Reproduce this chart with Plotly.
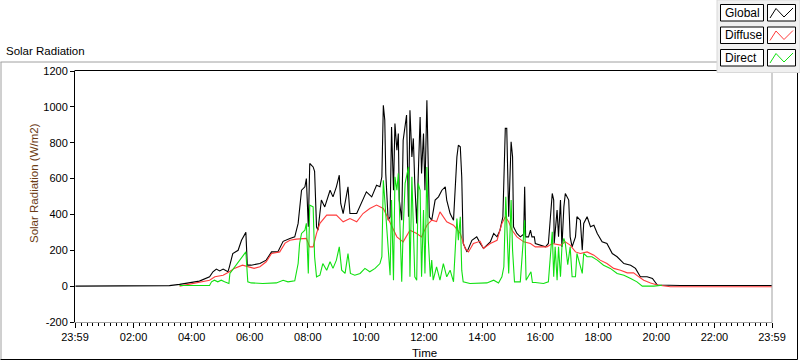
import plotly.graph_objects as go
import pandas as pd

DAY = "2024-05-02"
PREV_DAY = "2024-05-01"

# ---------------- data ----------------
global_times = ["00:00", "03:00", "03:14", "03:35", "04:16", "04:37", "04:44", "04:51", "04:58", "05:05",
                "05:15", "05:18", "05:25", "05:36", "05:43", "05:52", "05:55", "06:03", "06:21", "06:34",
                "06:45", "06:58", "07:02", "07:09", "07:23", "07:33", "07:40", "07:43", "07:47", "07:54",
                "07:57", "08:01", "08:04", "08:11", "08:14", "08:18", "08:21", "08:28", "08:35", "08:46",
                "08:52", "08:59", "09:05", "09:08", "09:13", "09:23", "09:27", "09:41", "09:51", "10:01",
                "10:12", "10:22", "10:29", "10:33", "10:36", "10:39", "10:41", "10:46", "10:50", "10:53",
                "10:57", "11:00", "11:04", "11:07", "11:09", "11:14", "11:17", "11:24", "11:28", "11:31",
                "11:35", "11:38", "11:41", "11:45", "11:52", "11:55", "11:59", "12:02", "12:06", "12:09",
                "12:11", "12:16", "12:23", "12:30", "12:37", "12:44", "12:47", "12:54", "13:01", "13:08",
                "13:11", "13:15", "13:18", "13:21", "13:29", "13:39", "13:49", "13:56", "14:03", "14:17",
                "14:24", "14:31", "14:37", "14:43", "14:48", "14:51", "14:55", "15:00", "15:03", "15:05",
                "15:12", "15:19", "15:26", "15:28", "15:30", "15:36", "15:40", "15:43", "15:48", "15:50",
                "16:00", "16:11", "16:17", "16:25", "16:28", "16:29", "16:35", "16:38", "16:42", "16:45",
                "16:49", "16:52", "16:59", "17:02", "17:06", "17:13", "17:16", "17:23", "17:27", "17:30",
                "17:37", "17:44", "17:51", "17:58", "18:08", "18:18", "18:29", "18:39", "18:53", "19:07",
                "19:17", "19:27", "19:41", "19:52", "20:02", "20:50", "23:59"]
global_values = [0, 0, 3, 10, 28, 52, 80, 95, 85, 95,
                 80, 108, 182, 200, 256, 300, 117, 117, 126, 145,
                 191, 191, 215, 250, 266, 275, 350, 442, 535, 554,
                 600, 331, 684, 665, 640, 331, 312, 480, 442, 535,
                 498, 554, 619, 461, 405, 554, 405, 405, 461, 526,
                 498, 563, 554, 610, 1009, 926, 629, 368, 387, 888,
                 535, 907, 758, 851, 480, 368, 814, 954, 387, 981,
                 721, 824, 573, 350, 944, 629, 851, 535, 1037, 721,
                 387, 368, 480, 498, 535, 554, 480, 405, 368, 721,
                 786, 777, 610, 238, 191, 256, 275, 240, 210, 247,
                 294, 275, 312, 387, 880, 880, 387, 805, 721, 331,
                 294, 275, 290, 554, 275, 275, 312, 275, 275, 238,
                 229, 219, 238, 517, 480, 238, 424, 275, 480, 219,
                 442, 517, 480, 275, 219, 275, 387, 368, 201, 350,
                 387, 331, 340, 294, 247, 238, 182, 164, 126, 117,
                 99, 52, 52, 43, 6, 4, 4]

diffuse_times = ["03:35", "04:37", "04:48", "05:05", "05:18", "05:28", "05:45", "05:55", "06:09", "06:21",
                 "06:34", "06:45", "07:02", "07:13", "07:23", "07:36", "07:57", "08:04", "08:11", "08:18",
                 "08:25", "08:39", "08:59", "09:13", "09:27", "09:41", "09:54", "10:08", "10:22", "10:36",
                 "10:50", "11:04", "11:17", "11:31", "11:45", "11:55", "12:06", "12:16", "12:26", "12:33",
                 "12:47", "13:01", "13:15", "13:25", "13:32", "13:42", "13:56", "14:03", "14:17", "14:31",
                 "14:41", "14:48", "14:55", "15:02", "15:12", "15:26", "15:40", "15:50", "16:04", "16:14",
                 "16:25", "16:42", "16:52", "17:02", "17:13", "17:23", "17:37", "17:51", "18:04", "18:18",
                 "18:32", "18:46", "19:00", "19:13", "19:24", "19:34", "19:48", "20:02", "20:29", "23:59"]
diffuse_values = [0, 33, 52, 61, 80, 99, 117, 108, 99, 108,
                  136, 182, 191, 240, 256, 262, 266, 219, 219, 294,
                  350, 396, 396, 359, 377, 359, 405, 433, 452, 433,
                  350, 275, 247, 312, 294, 275, 340, 368, 360, 414,
                  359, 340, 294, 210, 191, 238, 250, 210, 238, 256,
                  350, 387, 359, 312, 275, 247, 238, 219, 219, 219,
                  238, 229, 247, 229, 191, 182, 191, 173, 145, 126,
                  99, 89, 74, 74, 52, 33, 18, 6, -3, -3]

direct_times = ["03:35", "04:37", "04:41", "04:47", "04:54", "05:01", "05:08", "05:17", "05:19", "05:29",
                "05:39", "05:52", "05:56", "06:03", "06:27", "06:55", "07:09", "07:19", "07:33", "07:40",
                "07:43", "07:47", "07:54", "07:57", "08:01", "08:04", "08:11", "08:14", "08:18", "08:25",
                "08:31", "08:39", "08:46", "08:52", "08:59", "09:05", "09:10", "09:17", "09:23", "09:28",
                "09:37", "09:48", "09:58", "10:08", "10:19", "10:29", "10:33", "10:36", "10:39", "10:43",
                "10:46", "10:50", "10:53", "10:57", "11:00", "11:04", "11:07", "11:10", "11:14", "11:17",
                "11:21", "11:28", "11:31", "11:35", "11:38", "11:41", "11:45", "11:48", "11:52", "11:55",
                "11:59", "12:02", "12:06", "12:09", "12:13", "12:16", "12:19", "12:26", "12:33", "12:40",
                "12:47", "12:54", "13:01", "13:08", "13:11", "13:15", "13:18", "13:21", "13:35", "13:56",
                "14:10", "14:24", "14:34", "14:41", "14:45", "14:49", "14:55", "15:00", "15:03", "15:07",
                "15:19", "15:28", "15:31", "15:41", "15:44", "15:50", "16:07", "16:17", "16:25", "16:28",
                "16:31", "16:35", "16:38", "16:42", "16:45", "16:49", "16:52", "16:57", "17:02", "17:06",
                "17:13", "17:16", "17:23", "17:27", "17:30", "17:37", "17:47", "17:58", "18:11", "18:25",
                "18:39", "18:53", "19:07", "19:20", "19:31", "19:55", "20:12"]
direct_values = [4, 4, 24, 33, 24, 33, 24, 15, 71, 108,
                 145, 191, 24, 18, 15, 18, 33, 24, 30, 126,
                 238, 294, 312, 350, 71, 452, 442, 164, 52, 61,
                 126, 89, 136, 99, 145, 219, 89, 71, 182, 71,
                 61, 71, 99, 80, 99, 126, 164, 591, 480, 312,
                 219, 61, 480, 33, 610, 535, 629, 350, 24, 312,
                 573, 665, 52, 610, 350, 52, 33, 573, 535, 52,
                 424, 71, 665, 256, 52, 145, 33, 108, 33, 126,
                 52, 89, 24, 377, 256, 387, 89, 24, 15, 15,
                 18, 33, 18, 52, 108, 498, 71, 480, 201, 24,
                 24, 368, 33, 80, 20, 20, 15, 24, 303, 52,
                 219, 33, 219, 52, 219, 266, 238, 120, 219, 52,
                 52, 182, 117, 71, 182, 164, 164, 145, 117, 99,
                 71, 61, 43, 24, 0, 0, 5]

x_tick_labels = ["23:59", "02:00", "04:00", "06:00", "08:00", "10:00", "12:00",
                 "14:00", "16:00", "18:00", "20:00", "22:00", "23:59"]
y_tick_values = [-200, 0, 200, 400, 600, 800, 1000, 1200]
series_names = ["Global", "Diffuse", "Direct"]
series_colors = ["#000000", "#ff3b3b", "#10e010"]

# ---------------- helpers ----------------
def to_dt(times):
    return pd.to_datetime([f"{DAY} {t}" for t in times])

x_start = f"{PREV_DAY} 23:59"
x_end = f"{DAY} 23:59"
tick_positions = [x_start] + [f"{DAY} {t}" for t in x_tick_labels[1:-1]] + [x_end]

W, H = 800, 361
L, R, T, B = 75, 28, 71, 39
PW, PH = W - L - R, H - T - B

def px(x):
    return (x - L) / PW

def py(y):
    return (H - B - y) / PH

FONT = "Liberation Sans, Arial, sans-serif"

fig = go.Figure()
for name, times, values, color in zip(series_names,
                                      [global_times, diffuse_times, direct_times],
                                      [global_values, diffuse_values, direct_values],
                                      series_colors):
    fig.add_trace(go.Scatter(x=to_dt(times), y=values, mode="lines", name=name,
                             line=dict(color=color, width=1.1), showlegend=False))

shapes = []
# outer frame (sunken look)
shapes.append(dict(type="line", xref="paper", yref="paper", x0=px(0.5), x1=px(717), y0=py(62), y1=py(62),
                   line=dict(color="#a0a0a0", width=1)))
shapes.append(dict(type="line", xref="paper", yref="paper", x0=px(1), x1=px(1), y0=py(62), y1=py(359.5),
                   line=dict(color="#a0a0a0", width=1)))
shapes.append(dict(type="line", xref="paper", yref="paper", x0=px(0.5), x1=px(797.5), y0=py(359.5), y1=py(359.5),
                   line=dict(color="#000000", width=1)))
shapes.append(dict(type="line", xref="paper", yref="paper", x0=px(797.5), x1=px(797.5), y0=py(72), y1=py(359.5),
                   line=dict(color="#000000", width=1)))
# plot frame top (black) and right (gray)
shapes.append(dict(type="line", xref="paper", yref="paper", x0=px(74.5), x1=px(717), y0=py(70.5), y1=py(70.5),
                   line=dict(color="#000000", width=1)))
shapes.append(dict(type="line", xref="paper", yref="paper", x0=px(772), x1=px(772), y0=py(70.5), y1=py(322.5),
                   line=dict(color="#a0a0a0", width=1)))
# legend panel
shapes.append(dict(type="rect", xref="paper", yref="paper", x0=px(717), x1=px(800), y0=py(0), y1=py(72.5),
                   fillcolor="#f0f0f0", line=dict(color="#d8d8d8", width=1)))

annotations = []
rows = [(4.5, 21), (27, 43.5), (49.5, 66)]
for (y0, y1), name, color in zip(rows, series_names, series_colors):
    shapes.append(dict(type="rect", xref="paper", yref="paper", x0=px(720.5), x1=px(763.5), y0=py(y0), y1=py(y1),
                       fillcolor="#ffffff", line=dict(color="#000000", width=1)))
    shapes.append(dict(type="rect", xref="paper", yref="paper", x0=px(767.5), x1=px(795.5), y0=py(y0), y1=py(y1),
                       fillcolor="#ffffff", line=dict(color="#000000", width=1)))
    zx = [770, 776, 784, 793]
    zy = [y1 - 3, y0 + 4, y1 - 4, y0 + 3.5]
    path = "M {} {} L {} {} L {} {} L {} {}".format(
        px(zx[0]), py(zy[0]), px(zx[1]), py(zy[1]), px(zx[2]), py(zy[2]), px(zx[3]), py(zy[3]))
    shapes.append(dict(type="path", xref="paper", yref="paper", path=path, line=dict(color=color, width=1)))
    annotations.append(dict(text=name, xref="paper", yref="paper", x=px(723), y=py((y0 + y1) / 2),
                            xanchor="left", yanchor="middle", showarrow=False,
                            font=dict(family=FONT, size=12, color="#000000")))

annotations.append(dict(text="Solar Radiation", xref="paper", yref="paper", x=px(4), y=py(50.5),
                        xanchor="left", yanchor="middle", showarrow=False,
                        font=dict(family=FONT, size=11.5, color="#000000")))
annotations.append(dict(text="Solar Radiation (W/m2)", xref="paper", yref="paper", x=px(34), y=py(183),
                        xanchor="center", yanchor="middle", textangle=-90, showarrow=False,
                        font=dict(family=FONT, size=11.5, color="#6b3a14")))
annotations.append(dict(text="Time", xref="paper", yref="paper", x=px(424), y=py(353),
                        xanchor="center", yanchor="middle", showarrow=False,
                        font=dict(family=FONT, size=11.5, color="#000000")))

fig.update_layout(
    width=W, height=H,
    margin=dict(l=L, r=R, t=T, b=B, pad=0),
    paper_bgcolor="#ffffff", plot_bgcolor="#ffffff",
    showlegend=False,
    hovermode=False,
    shapes=shapes,
    annotations=annotations,
    xaxis=dict(type="date", range=[x_start, x_end], tickmode="array",
               tickvals=tick_positions, ticktext=x_tick_labels,
               ticks="outside", ticklen=5, tickcolor="#000000", tickwidth=1,
               showline=True, linecolor="#a0a0a0", linewidth=1,
               showgrid=False, zeroline=False,
               tickfont=dict(family=FONT, size=11, color="#000000"),
               minor=dict(ticks="outside", ticklen=3, tickcolor="#000000", tickwidth=1,
                          tick0=f"{DAY} 00:00", dtick=12 * 60 * 1000, showgrid=False)),
    yaxis=dict(range=[-200, 1200], tickmode="array", tickvals=y_tick_values,
               ticktext=[str(v) for v in y_tick_values],
               ticks="outside", ticklen=4, tickcolor="#000000", tickwidth=1,
               showline=True, linecolor="#000000", linewidth=1,
               showgrid=False, zeroline=False,
               tickfont=dict(family=FONT, size=11, color="#000000")),
)

fig.write_html("out.html", config={"displayModeBar": False, "staticPlot": True},
               post_script="document.body.style.margin='0';document.body.style.overflow='hidden';")
